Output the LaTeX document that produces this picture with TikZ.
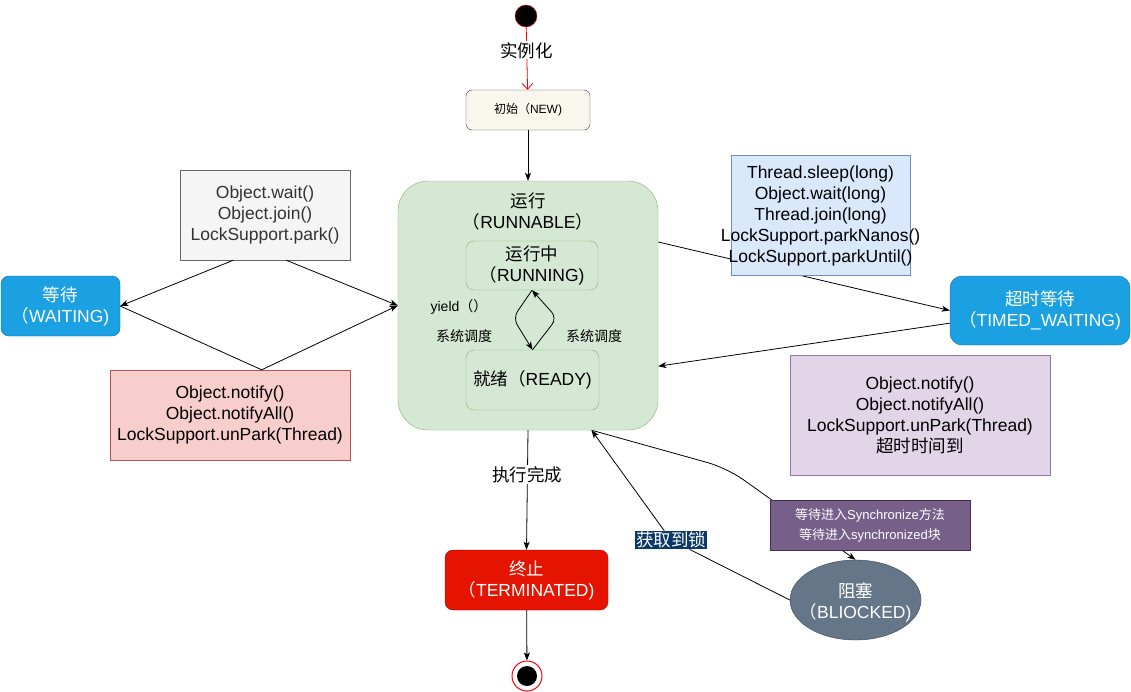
\documentclass[tikz,border=0pt]{standalone}
\usepackage{fontspec}
\setmainfont{Liberation Sans}
\newfontfamily\cjk{Noto Sans CJK SC}
\usetikzlibrary{arrows.meta,shapes.geometric,backgrounds}

\newcommand{\zh}[1]{{\cjk #1}}
\newcommand{\txtbig}{\fontsize{17.5}{21}\selectfont}
\newcommand{\txtmid}{\fontsize{14}{17}\selectfont}
\newcommand{\txtsmall}{\fontsize{13}{20}\selectfont}

\definecolor{newfill}{HTML}{F9F7ED}
\definecolor{newline}{HTML}{36393D}
\definecolor{runfill}{HTML}{D5E8D4}
\definecolor{runline}{HTML}{82B366}
\definecolor{waitfill}{HTML}{1BA1E2}
\definecolor{waitline}{HTML}{006EAF}
\definecolor{grayfill}{HTML}{F5F5F5}
\definecolor{grayline}{HTML}{666666}
\definecolor{graytext}{HTML}{333333}
\definecolor{redfill}{HTML}{F8CECC}
\definecolor{redline}{HTML}{B85450}
\definecolor{bluefill}{HTML}{DAE8FC}
\definecolor{blueline}{HTML}{6C8EBF}
\definecolor{purpfill}{HTML}{E1D5E7}
\definecolor{purpline}{HTML}{9673A6}
\definecolor{termfill}{HTML}{E51400}
\definecolor{termline}{HTML}{B20000}
\definecolor{blockfill}{HTML}{647687}
\definecolor{blockline}{HTML}{314354}
\definecolor{syncfill}{HTML}{76608A}
\definecolor{syncline}{HTML}{432D57}
\definecolor{lockfill}{HTML}{0B3866}

\begin{document}
\begin{tikzpicture}
[x=1pt,y=-1pt,
 state/.style={draw,rounded corners=8pt,inner sep=0pt,align=center,font=\txtbig},
 note/.style={draw,inner sep=0pt,align=center,font=\txtbig},
 flow/.style={-{Stealth[length=8pt,width=6pt,inset=2pt]},line width=0.8pt},
 tag/.style={fill=white,inner sep=1pt,font=\txtbig}]

\useasboundingbox (0,0) rectangle (1131,691);

\node (start) at (526,16) [circle,fill=black,draw=red,minimum size=22pt,inner sep=0pt] {};
\node (new) at (528,110) [state,rounded corners=6pt,fill=newfill,draw=newline,minimum width=124pt,minimum height=40pt,font=\fontsize{12}{14}\selectfont] {\zh{初始（}NEW)};

\node (runnable) at (528,305.5) [state,rounded corners=30pt,fill=runfill,draw=runline,minimum width=260pt,minimum height=249pt] {};
\node (runlbl) at (528,211) [align=center,font=\txtbig] {\zh{运行}\\\zh{（}RUNNABLE\zh{）}};
\node (running) at (532,265.5) [state,fill=runfill,draw=runline,minimum width=132pt,minimum height=49pt] {\zh{运行中}\\\zh{（}RUNNING)};
\node (ready) at (532.5,380) [state,fill=runfill,draw=runline,minimum width=133pt,minimum height=60pt] {\zh{就绪（}READY)};
\node (yield) at (459,307) [font=\txtmid] {yield\zh{（）}};
\node (schedl) at (464,336) [font=\txtmid] {\zh{系统调度}};
\node (schedr) at (594,336) [font=\txtmid] {\zh{系统调度}};

\node (waiting) at (60.5,306) [state,fill=waitfill,draw=waitline,text=white,minimum width=119pt,minimum height=60pt] {\zh{等待}\\\zh{（}WAITING)};
\node (waitcall) at (265,215) [note,fill=grayfill,draw=grayline,text=graytext,minimum width=170pt,minimum height=90pt] {Object.wait()\\Object.join()\\LockSupport.park()};
\node (notify) at (230,415) [note,fill=redfill,draw=redline,minimum width=240pt,minimum height=90pt] {Object.notify()\\Object.notifyAll()\\LockSupport.unPark(Thread)};

\node (timedcall) at (820.5,215) [note,fill=bluefill,draw=blueline,minimum width=179pt,minimum height=120pt] {};
\node (timedtext) at (820.5,216) [align=center,font=\txtbig] {Thread.sleep(long)\\Object.wait(long)\\Thread.join(long)\\LockSupport.parkNanos()\\LockSupport.parkUntil()};
\node (timed) at (1040,310.5) [state,rounded corners=12pt,fill=waitfill,draw=waitline,text=white,minimum width=180pt,minimum height=69pt] {\zh{超时等待}\\\zh{（}TIMED\_WAITING)};
\node (timednotify) at (920,415) [note,fill=purpfill,draw=purpline,minimum width=260pt,minimum height=120pt] {Object.notify()\\Object.notifyAll()\\LockSupport.unPark(Thread)\\\zh{超时时间到}};

\node (terminated) at (526.5,580) [state,fill=termfill,draw=termline,text=white,minimum width=163pt,minimum height=60pt] {\zh{终止}\\\zh{（}TERMINATED)};
\node (end) at (527,676) [circle,draw=red,fill=white,minimum size=30pt,inner sep=0pt,line width=1pt] {};
\node (endin) at (527,676) [circle,fill=black,minimum size=20pt,inner sep=0pt] {};

\node (blocked) at (855.5,600) [ellipse,fill=blockfill,draw=blockline,minimum width=131pt,minimum height=80pt,inner sep=0pt] {};
\node (blocklbl) at (855.5,602) [text=white,align=center,font=\txtbig] {\zh{阻塞}\\\zh{（}BLIOCKED)};
\node (sync) at (870,525) [note,fill=syncfill,draw=syncline,text=white,minimum width=200pt,minimum height=50pt,font=\txtsmall] {\zh{等待进入}Synchronize\zh{方法}\\\zh{等待进入}synchronized\zh{块}};
\node (lock) at (671,540) [fill=lockfill,text=white,inner sep=1pt,font=\txtbig] {\zh{获取到锁}};

% transitions
\draw [red,-{Straight Barb[length=6pt,width=11pt]},line width=0.8pt] (start) -- (new) node (inst) [pos=0.37,tag,text=black] {\zh{实例化}};
\draw [flow] (new) -- (runnable);
\draw [flow,rounded corners=8pt] (running.south) -- (513,318) -- (ready.north);
\draw [flow,rounded corners=8pt] (ready.north) -- (557,318) -- (running.south);
\draw [flow] (waitcall.-125) -- (waiting.east);
\draw [flow] (waitcall.-65) -- (runnable.west);
\draw [flow] (waiting.east) -- (notify.55) -- (runnable.west);
\draw [flow] (timed.188) -- (runnable.-25);
\draw [flow] (runnable.south) -- (terminated.north) node (done) [pos=0.37,tag] {\zh{执行完成}};
\draw [flow] (terminated) -- (end);
\draw [flow] (blocked.west) -- (lock) -- (runnable.-63);

% these run behind the boxes
\begin{scope}[on background layer]
\draw [flow] (runnable.26) -- (timed.west);
\draw [flow,rounded corners=20pt] (runnable.-63) -- (727,468) -- (blocked.north);
\end{scope}
\end{tikzpicture}
\end{document}
